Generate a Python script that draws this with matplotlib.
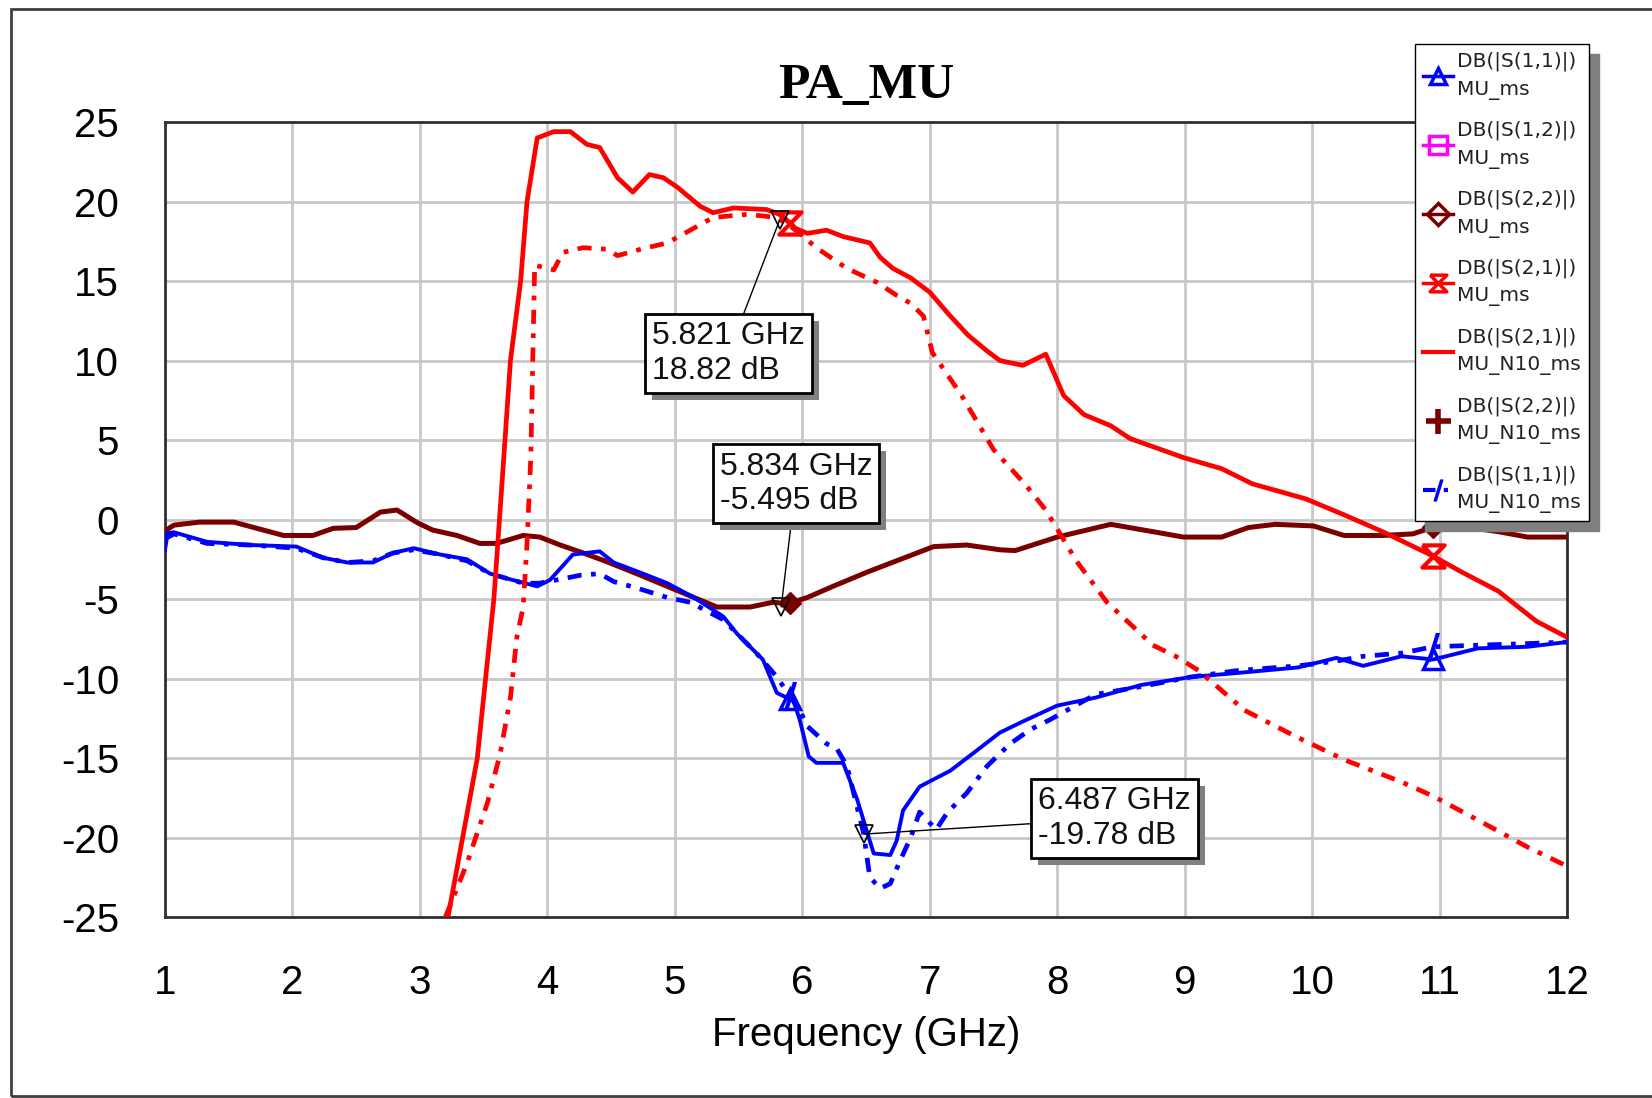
import numpy as np
import matplotlib
matplotlib.use("Agg")
import matplotlib.pyplot as plt
from matplotlib.lines import Line2D
from matplotlib.patches import Rectangle
from matplotlib import patheffects as pe

plt.rcParams['font.family'] = ['Liberation Sans', 'DejaVu Sans']
plt.rcParams['axes.unicode_minus'] = False

# (GHz, dB) traces
s21_n10 = np.array([
    (3.22, -25.0), (3.45, -15.0), (3.58, -5.0), (3.65, 3.0), (3.71, 10.0), (3.79, 15.0),
    (3.84, 20.0), (3.92, 24.0), (4.05, 24.4), (4.18, 24.4), (4.31, 23.6), (4.41, 23.4),
    (4.55, 21.5), (4.67, 20.6), (4.80, 21.7), (4.91, 21.5), (5.02, 20.9), (5.20, 19.7),
    (5.30, 19.3), (5.46, 19.6), (5.72, 19.5), (5.82, 19.2), (5.95, 18.3), (6.04, 18.0),
    (6.19, 18.2), (6.32, 17.8), (6.53, 17.4), (6.61, 16.5), (6.71, 15.8), (6.85, 15.2),
    (7.00, 14.3), (7.15, 12.9), (7.30, 11.6), (7.45, 10.6), (7.55, 10.0), (7.73, 9.7),
    (7.91, 10.4), (8.05, 7.8), (8.21, 6.6), (8.42, 5.9), (8.57, 5.1), (8.99, 3.9),
    (9.29, 3.2), (9.53, 2.25), (9.95, 1.3), (10.25, 0.3), (10.55, -0.75), (10.95, -2.3),
    (11.15, -3.2), (11.46, -4.5), (11.76, -6.4), (12.0, -7.4),
])

s21_ms = np.array([
    (3.20, -25.0), (3.37, -21.6), (3.53, -17.8), (3.63, -14.7), (3.71, -11.2), (3.76, -7.4),
    (3.81, -5.5), (3.84, -1.5), (3.87, 4.0), (3.89, 12.0), (3.90, 16.0), (4.05, 15.7),
    (4.12, 16.8), (4.28, 17.1), (4.47, 17.0), (4.55, 16.6), (4.73, 17.0), (4.94, 17.4),
    (5.12, 18.2), (5.30, 19.0), (5.57, 19.2), (5.80, 19.0), (5.95, 18.2), (6.11, 17.1),
    (6.22, 16.5), (6.35, 15.8), (6.51, 15.2), (6.59, 14.9), (6.74, 14.1), (6.85, 13.6),
    (6.95, 12.8), (7.02, 10.5), (7.25, 7.8), (7.50, 4.4), (7.75, 2.2), (7.91, 0.6),
    (8.00, -0.6), (8.15, -2.6), (8.39, -5.2), (8.75, -7.9), (8.93, -8.6), (9.11, -9.5),
    (9.47, -12.0), (9.86, -13.6), (10.25, -15.1), (10.70, -16.5), (10.95, -17.4),
    (11.30, -18.9), (11.69, -20.6), (12.0, -21.8),
])

s22 = np.array([
    (1.00, -0.7), (1.07, -0.35), (1.27, -0.16), (1.54, -0.16), (1.72, -0.55), (1.93, -1.0),
    (2.16, -1.0), (2.32, -0.55), (2.50, -0.5), (2.69, 0.47), (2.82, 0.6), (2.98, -0.2),
    (3.10, -0.66), (3.29, -1.0), (3.47, -1.5), (3.60, -1.5), (3.81, -1.0), (3.94, -1.1),
    (4.10, -1.6), (4.28, -2.1), (4.45, -2.6), (4.73, -3.5), (5.06, -4.6), (5.33, -5.5),
    (5.59, -5.5), (5.77, -5.2), (5.88, -5.3), (6.04, -4.9), (6.24, -4.2), (6.51, -3.3),
    (6.77, -2.5), (7.03, -1.7), (7.29, -1.6), (7.55, -1.9), (7.67, -1.95), (8.00, -1.1),
    (8.42, -0.3), (8.75, -0.76), (8.99, -1.1), (9.29, -1.1), (9.50, -0.5), (9.71, -0.3),
    (10.01, -0.4), (10.25, -1.0), (10.55, -1.0), (10.79, -0.9), (10.94, -0.5), (11.15, -0.4),
    (11.46, -0.76), (11.69, -1.1), (12.0, -1.1),
])

s11_ms = np.array([
    (1.00, -1.9), (1.02, -0.85), (1.07, -0.8), (1.33, -1.4), (1.67, -1.6), (2.03, -1.7),
    (2.24, -2.4), (2.43, -2.7), (2.63, -2.7), (2.79, -2.1), (2.95, -1.8), (3.16, -2.2),
    (3.37, -2.5), (3.55, -3.4), (3.68, -3.7), (3.92, -4.2), (4.02, -3.8), (4.20, -2.2),
    (4.41, -2.0), (4.52, -2.7), (4.75, -3.4), (4.94, -4.0), (5.15, -4.9), (5.38, -6.1),
    (5.49, -7.2), (5.69, -8.8), (5.80, -10.9), (5.93, -11.4), (5.98, -12.6), (6.05, -14.9),
    (6.11, -15.3), (6.32, -15.3), (6.43, -17.6), (6.51, -19.7), (6.56, -21.0), (6.69, -21.1),
    (6.74, -20.2), (6.79, -18.3), (6.92, -16.8), (7.16, -15.8), (7.34, -14.7), (7.55, -13.4),
    (7.73, -12.7), (8.00, -11.7), (8.30, -11.2), (8.66, -10.4), (9.05, -9.9), (9.41, -9.65),
    (9.89, -9.3), (10.19, -8.7), (10.40, -9.2), (10.70, -8.6), (10.95, -8.8), (11.30, -8.1),
    (11.69, -8.0), (12.0, -7.7),
])

s11_n10 = np.array([
    (1.00, -1.2), (1.07, -0.9), (1.33, -1.5), (1.67, -1.6), (2.03, -1.8), (2.24, -2.4),
    (2.43, -2.7), (2.63, -2.6), (2.79, -2.1), (2.95, -1.9), (3.16, -2.2), (3.37, -2.6),
    (3.55, -3.4), (3.81, -4.0), (3.94, -4.0), (4.07, -3.8), (4.26, -3.5), (4.41, -3.4),
    (4.52, -3.9), (4.70, -4.3), (4.94, -4.9), (5.12, -5.2), (5.38, -6.3), (5.64, -8.4),
    (5.80, -9.9), (5.98, -12.0), (6.04, -13.0), (6.19, -14.1), (6.27, -14.4), (6.35, -15.5),
    (6.48, -19.7), (6.51, -21.4), (6.53, -22.5), (6.61, -23.2), (6.69, -22.9), (6.77, -21.4),
    (6.85, -20.0), (6.92, -18.4), (7.05, -19.5), (7.14, -18.4), (7.29, -17.2), (7.45, -15.5),
    (7.63, -14.1), (7.79, -13.2), (7.94, -12.6), (8.30, -11.0), (8.66, -10.5), (9.05, -9.9),
    (9.41, -9.5), (9.89, -9.2), (10.19, -8.9), (10.40, -8.6), (10.70, -8.4), (10.95, -8.0),
    (11.30, -7.9), (11.69, -7.8), (12.0, -7.7),
])

# trace symbols sit at these frequencies
symbol_f = [5.9, 10.95]

# marker readouts
mk_freq = [5.821, 5.834, 6.487]
mk_db = [18.82, -5.495, -19.78]
mk_box = [(5.42, 10.45), (5.95, 2.25), (8.45, -18.8)]

legend_labels = [
    "DB(|S(1,1)|)\nMU_ms", "DB(|S(1,2)|)\nMU_ms", "DB(|S(2,2)|)\nMU_ms",
    "DB(|S(2,1)|)\nMU_ms", "DB(|S(2,1)|)\nMU_N10_ms", "DB(|S(2,2)|)\nMU_N10_ms",
    "DB(|S(1,1)|)\nMU_N10_ms",
]

RED = '#ff0000'
BLUE = '#0000ff'
BROWN = '#7a0000'
MAGENTA = '#ff00ff'
dashdot = (0, (3, 2, 1, 2))
hourglass = [(-1, 1), (1, 1), (-1, -1), (1, -1), (-1, 1)]

fig = plt.figure(figsize=(16.52, 10.98), dpi=100)
ax = fig.add_axes([0.0999, 0.1648, 0.8487, 0.724])

# outer frame of the graph window
fig.patches.append(Rectangle((0.0067, 0.0018), 1.0, 0.99, transform=fig.transFigure,
                             fill=False, ec='#404040', lw=2))

ax.plot(s22[:, 0], s22[:, 1], color=BROWN, lw=3.6, zorder=3)
ax.plot(s11_n10[:, 0], s11_n10[:, 1], color=BLUE, lw=3.4, ls=dashdot, zorder=3)
ax.plot(s11_ms[:, 0], s11_ms[:, 1], color=BLUE, lw=2.8, zorder=3)
ax.plot(s21_ms[:, 0], s21_ms[:, 1], color=RED, lw=3.4, ls=dashdot, zorder=4)
ax.plot(s21_n10[:, 0], s21_n10[:, 1], color=RED, lw=3.4, zorder=4)

# trace symbols
ax.plot(symbol_f, np.interp(symbol_f, s22[:, 0], s22[:, 1]), ls='none', marker='D',
        ms=11, color=BROWN, zorder=5)
ax.plot(symbol_f, np.interp(symbol_f, s11_ms[:, 0], s11_ms[:, 1]), ls='none', marker='^',
        ms=15, mfc='none', mec=BLUE, mew=2.5, zorder=5)
ax.plot(symbol_f, np.interp(symbol_f, s11_n10[:, 0], s11_n10[:, 1]), ls='none', marker='$/$',
        ms=20, color=BLUE, zorder=5)
ax.plot(symbol_f, np.interp(symbol_f, s21_n10[:, 0], s21_n10[:, 1]), ls='none', marker=hourglass,
        ms=16, mfc='none', mec=RED, mew=3, zorder=5)

# marker readouts with leader lines
ax.plot(mk_freq, mk_db, ls='none', marker='v', ms=13, mfc='none', mec='black', mew=1.2, zorder=6)
for f, db, (bx, by) in zip(mk_freq, mk_db, mk_box):
    t = ax.annotate(f"{f:.3f} GHz\n{db:.4g} dB", xy=(f, db), xytext=(bx, by), textcoords='data',
                    ha='center', va='center', multialignment='left', fontsize=23,
                    color='#111111', zorder=7,
                    bbox=dict(boxstyle='square,pad=0.22', fc='white', ec='black', lw=2),
                    arrowprops=dict(arrowstyle='-', color='black', lw=1, shrinkA=0, shrinkB=0))
    t.get_bbox_patch().set_path_effects([
        pe.withSimplePatchShadow(offset=(5, -5), shadow_rgbFace='#808080', alpha=1.0)])

ax.set_xlim(1, 12)
ax.set_ylim(-25, 25)
ax.set_xticks(range(1, 13))
ax.set_yticks(range(-25, 26, 5))
ax.grid(color='#c8c8c8', lw=2)
ax.set_axisbelow(True)
ax.tick_params(length=0, labelsize=29)
ax.tick_params(axis='x', pad=34)
ax.tick_params(axis='y', pad=33)
for sp in ax.spines.values():
    sp.set_color('#303030')
    sp.set_linewidth(2)

ax.set_xlabel("Frequency (GHz)", fontsize=29, labelpad=10)
ax.set_title("PA_MU", fontsize=37, fontweight='bold', family=['Liberation Serif', 'DejaVu Serif'],
             pad=17)

handles = [
    Line2D([], [], color=BLUE, lw=2.5, marker='^', ms=12, mfc='none', mew=2.5),
    Line2D([], [], color=MAGENTA, lw=2.5, marker='s', ms=13, mfc='none', mew=2.5),
    Line2D([], [], color=BROWN, lw=2.5, marker='D', ms=11, mfc='none', mew=2.5),
    Line2D([], [], color=RED, lw=2.5, marker=hourglass, ms=12, mfc='none', mew=2.5),
    Line2D([], [], color=RED, lw=3),
    Line2D([], [], color=BROWN, ls='none', marker='+', ms=18, mew=4),
    Line2D([], [], color=BLUE, lw=3, ls=dashdot, marker='$/$', ms=15),
]
leg = fig.legend(handles, legend_labels, loc='upper left', bbox_to_anchor=(0.8565, 0.96),
                 prop={'family': ['DejaVu Sans'], 'size': 14.5}, frameon=True, fancybox=False,
                 edgecolor='black', framealpha=1,
                 shadow={'ox': 7, 'oy': -7, 'color': '#7f7f7f', 'alpha': 1},
                 handlelength=1.5, handletextpad=0.2, labelspacing=1.05, borderpad=0.4,
                 borderaxespad=0, labelcolor='#222222')
for txt in leg.get_texts():
    txt.set_linespacing(1.55)

fig.savefig('out.png', dpi=100)
